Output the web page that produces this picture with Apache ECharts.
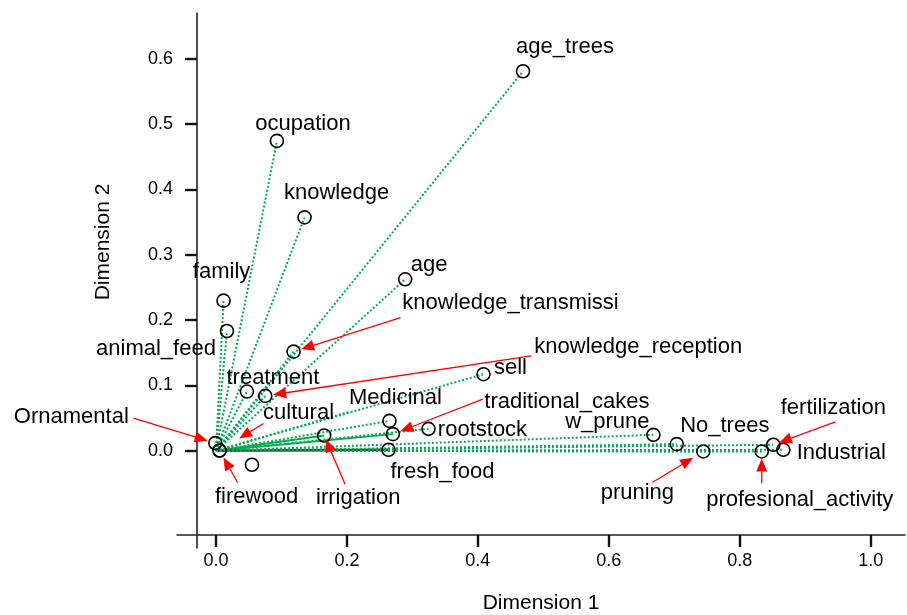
<!DOCTYPE html>
<html>
<head>
<meta charset="utf-8">
<script src="https://cdn.jsdelivr.net/npm/echarts@6/dist/echarts.min.js"></script>
<style>
  html, body { margin: 0; padding: 0; background: #ffffff; }
  #chart { width: 907px; height: 615px; }
</style>
</head>
<body>
<div id="chart"></div>
<script>
// Variable coordinates on the first two dimensions
const names = ['age_trees', 'ocupation', 'knowledge', 'age', 'family', 'animal_feed',
  'knowledge_transmissi', 'sell', 'treatment', 'knowledge_reception', 'Medicinal',
  'traditional_cakes', 'rootstock', 'cultural', 'irrigation', 'fresh_food', 'Ornamental',
  'firewood', '', 'w_prune', 'No_trees', 'pruning', 'profesional_activity',
  'fertilization', 'Industrial'];
const dim1 = [0.469, 0.0931, 0.1353, 0.289, 0.0116, 0.0168,
  0.1185, 0.4086, 0.0473, 0.0753, 0.265,
  0.2702, 0.3246, 0.0055, 0.1653, 0.2635, -0.001,
  0.0055, 0.055, 0.6681, 0.7038, 0.7444, 0.8336,
  0.8513, 0.8666];
const dim2 = [0.5806, 0.4741, 0.3571, 0.2623, 0.2297, 0.1833,
  0.1517, 0.1172, 0.0906, 0.084, 0.0458,
  0.0255, 0.0336, 0.0005, 0.0234, 0.0015, 0.0118,
  0.0005, -0.0214, 0.0244, 0.0102, -0.001, -0.001,
  0.0092, 0.0015];
// How the vector from the origin to each variable is drawn
const vectorKind = ['dotted', 'dotted', 'dotted', 'dotted', 'dotted', 'dotted',
  'dotted', 'dotted', 'dotted', 'dotted', 'dotted',
  'solid', 'dotted', 'none', 'solid', 'dark', 'none',
  'none', 'none', 'dotted', 'dotted', 'dotted', 'dotted',
  'dotted', 'dotted'];
// A vector drawn without a marker at its end
const bareVectorDim1 = [0.2035];
const bareVectorDim2 = [0.0596];
// Axis ticks
const xTicks = [0.0, 0.2, 0.4, 0.6, 0.8, 1.0];
const yTicks = [0.0, 0.1, 0.2, 0.3, 0.4, 0.5, 0.6];

// Label placement: text centre relative to the marker, in pixels
const labelOffset = {
  age_trees: [42, -24], ocupation: [26, -17], knowledge: [32, -24], age: [24, -14],
  family: [-2, -29], animal_feed: [-71, 18], knowledge_transmissi: [217, -49],
  sell: [27, -6], treatment: [26, -14], knowledge_reception: [373, -49],
  Medicinal: [6, -23], traditional_cakes: [174, -32], rootstock: [54, 1],
  cultural: [79, -38], irrigation: [34, 62], fresh_food: [54, 22],
  Ornamental: [-144, -26], firewood: [37, 46], w_prune: [-46, -13],
  No_trees: [48, -18], pruning: [-66, 41], profesional_activity: [38, 48],
  fertilization: [60, -37], Industrial: [58, 3]
};
// Leader arrows: start relative to the marker, and gap left before the marker
const arrowFrom = {
  knowledge_transmissi: [107, -34, 8], knowledge_reception: [266, -40, 8],
  traditional_cakes: [90, -35, 8], Ornamental: [-82, -25, 8], cultural: [44, -27, 23],
  firewood: [18, 32, 8], irrigation: [21, 49, 4], pruning: [-51, 31, 12],
  profesional_activity: [0, 32, 7], fertilization: [62, -23, 6]
};

const GREEN = '#00ad50';
const FONT = 'Liberation Sans, Arial, sans-serif';

const vectorData = [];
names.forEach((n, i) => {
  const k = vectorKind[i];
  if (k === 'none') return;
  const style = k === 'dotted'
    ? { color: GREEN, width: 2, type: [2, 2], opacity: 1 }
    : k === 'solid'
      ? { color: GREEN, width: 2, type: 'solid', opacity: 1 }
      : { color: '#17502c', width: 2.6, type: 'solid', opacity: 1 };
  vectorData.push({ coords: [[0, 0], [dim1[i], dim2[i]]], lineStyle: style });
});
bareVectorDim1.forEach((x, i) => {
  vectorData.push({ coords: [[0, 0], [x, bareVectorDim2[i]]],
    lineStyle: { color: GREEN, width: 2, type: [2, 2], opacity: 1 } });
});

const pointData = names.map((n, i) => {
  const off = labelOffset[n];
  return {
    name: n,
    value: [dim1[i], dim2[i]],
    label: off ? { show: true, offset: off } : { show: false }
  };
});

const arrowItems = names
  .map((n, i) => ({ name: n, value: [dim1[i], dim2[i]] }))
  .filter(d => arrowFrom[d.name]);

function renderArrow(params, api) {
  const item = arrowItems[params.dataIndex];
  const a = arrowFrom[item.name];
  const p = api.coord([api.value(0), api.value(1)]);
  const s = [p[0] + a[0], p[1] + a[1]];
  const vx = p[0] - s[0], vy = p[1] - s[1];
  const len = Math.sqrt(vx * vx + vy * vy);
  const ux = vx / len, uy = vy / len;
  const tip = [p[0] - ux * a[2], p[1] - uy * a[2]];
  const headLen = 13, halfW = 5.5;
  const base = [tip[0] - ux * headLen, tip[1] - uy * headLen];
  const nx = -uy, ny = ux;
  return {
    type: 'group',
    children: [
      { type: 'line', shape: { x1: s[0], y1: s[1], x2: base[0], y2: base[1] },
        style: { stroke: '#ff0000', lineWidth: 1.3 } },
      { type: 'polygon', shape: { points: [tip,
          [base[0] + nx * halfW, base[1] + ny * halfW],
          [base[0] - nx * halfW, base[1] - ny * halfW]] },
        style: { fill: '#ff0000' } }
    ]
  };
}

const axisCommon = {
  type: 'value',
  splitLine: { show: false },
  axisLine: { show: true, onZero: false, lineStyle: { color: '#222', width: 1.6 } },
  axisTick: { show: true, length: 12, lineStyle: { color: '#111', width: 2.4 } }
};

const chart = echarts.init(document.getElementById('chart'), null, { renderer: 'canvas' });
chart.setOption({
  animation: false,
  backgroundColor: '#ffffff',
  grid: { left: 177, right: 2, top: 13, bottom: 67 },
  xAxis: Object.assign({}, axisCommon, {
    min: -0.0595, max: 1.0524,
    position: 'bottom', offset: -13,
    axisTick: Object.assign({}, axisCommon.axisTick, { customValues: xTicks }),
    axisLabel: { customValues: xTicks, margin: 17, fontSize: 18, color: '#000',
      fontFamily: FONT, formatter: v => v.toFixed(1) }
  }),
  yAxis: Object.assign({}, axisCommon, {
    min: -0.1487, max: 0.6697,
    position: 'left', offset: -20,
    axisTick: Object.assign({}, axisCommon.axisTick, { customValues: yTicks }),
    axisLabel: { customValues: yTicks, margin: 24, fontSize: 18, color: '#000',
      fontFamily: FONT, formatter: v => v.toFixed(1) }
  }),
  graphic: [
    { type: 'text', x: 541, y: 603,
      style: { text: 'Dimension 1', fill: '#000', font: '21px ' + FONT,
        textAlign: 'center', textVerticalAlign: 'middle' } },
    { type: 'text', x: 103, y: 242, rotation: Math.PI / 2,
      style: { text: 'Dimension 2', fill: '#000', font: '21px ' + FONT,
        textAlign: 'center', textVerticalAlign: 'middle' } }
  ],
  series: [
    {
      type: 'lines',
      coordinateSystem: 'cartesian2d',
      polyline: false,
      silent: true,
      z: 2,
      data: vectorData
    },
    {
      type: 'scatter',
      z: 3,
      symbol: 'circle',
      symbolSize: 13,
      itemStyle: { color: 'rgba(0,0,0,0)', borderColor: '#000', borderWidth: 1.6, opacity: 1 },
      label: {
        position: 'inside',
        formatter: '{b}',
        fontSize: 22,
        fontFamily: FONT,
        color: '#000',
        opacity: 1,
        align: 'center',
        verticalAlign: 'middle'
      },
      data: pointData
    },
    {
      type: 'custom',
      z: 4,
      silent: true,
      renderItem: renderArrow,
      encode: { x: 0, y: 1 },
      data: arrowItems
    }
  ]
});
</script>
</body>
</html>
